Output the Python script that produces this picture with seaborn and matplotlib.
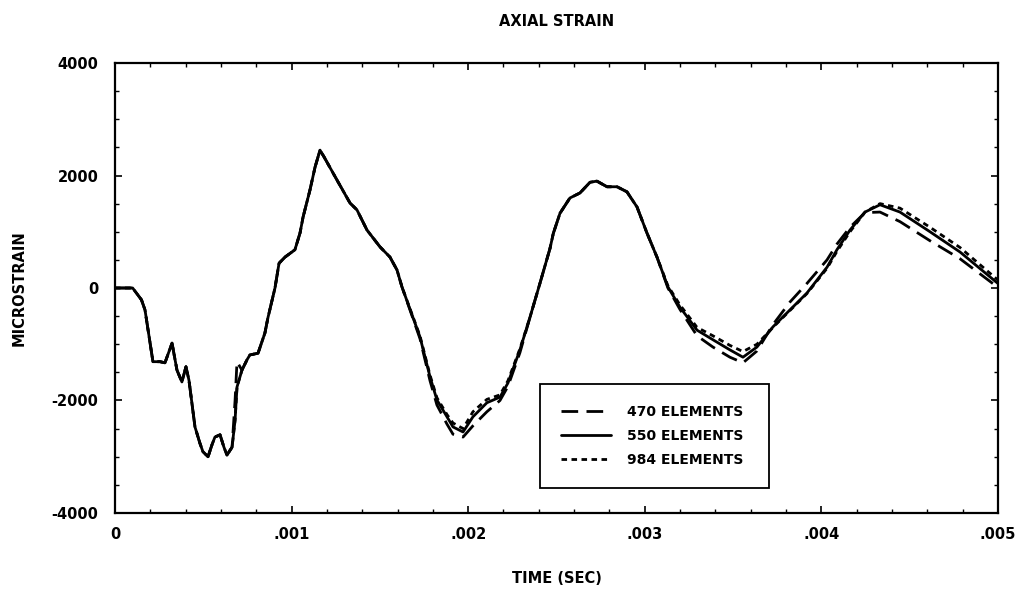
import numpy as np
import pandas as pd
import matplotlib
matplotlib.use("Agg")
import matplotlib.pyplot as plt
import seaborn as sns
from matplotlib.ticker import MultipleLocator, FixedLocator, FixedFormatter

# ---------------- data ----------------
time_ms = [0, 0.10, 0.15, 0.17, 0.215, 0.255, 0.283, 0.323, 0.351, 0.379,
           0.402, 0.419, 0.453, 0.481, 0.498, 0.527, 0.549, 0.566, 0.595, 0.617,
           0.634, 0.663, 0.680, 0.691, 0.719, 0.747, 0.764, 0.810, 0.849, 0.866,
           0.906, 0.929, 0.963, 1.019, 1.048, 1.065, 1.104, 1.133, 1.161, 1.184,
           1.200, 1.257, 1.331, 1.370, 1.427, 1.501, 1.557, 1.597, 1.625, 1.727,
           1.784, 1.823, 1.880, 1.914, 1.971, 2.027, 2.106, 2.180, 2.225, 2.293,
           2.350, 2.407, 2.463, 2.482, 2.520, 2.576, 2.633, 2.690, 2.729, 2.786,
           2.843, 2.899, 2.956, 3.012, 3.069, 3.131, 3.199, 3.296, 3.386, 3.482,
           3.556, 3.635, 3.726, 3.822, 3.918, 4.032, 4.088, 4.162, 4.247, 4.332,
           4.445, 4.615, 4.785, 5.000]

strain_550 = [0, 0, -210, -390, -1310, -1310, -1330, -980, -1460, -1670,
              -1400, -1640, -2470, -2760, -2910, -3000, -2790, -2650, -2610, -2830,
              -2970, -2830, -2350, -1760, -1460, -1280, -1190, -1160, -800, -530,
              0, 440, 550, 680, 980, 1260, 1740, 2150, 2450, 2330,
              2240, 1920, 1510, 1390, 1030, 730, 550, 320, 20, -870,
              -1580, -1990, -2290, -2470, -2560, -2290, -2040, -1940, -1690, -1100,
              -520, 90, 700, 970, 1330, 1600, 1690, 1880, 1900, 1800,
              1800, 1710, 1440, 980, 550, 20, -340, -750, -920, -1100,
              -1230, -1050, -690, -390, -90, 370, 680, 1030, 1350, 1480,
              1350, 1000, 640, 80]

strain_470 = [0, 0, -210, -390, -1310, -1310, -1330, -980, -1460, -1670,
              -1400, -1640, -2470, -2760, -2910, -3000, -2790, -2650, -2610, -2830,
              -2970, -2830, -2000, -1310, -1460, -1280, -1190, -1160, -800, -530,
              0, 440, 550, 680, 980, 1260, 1740, 2150, 2450, 2330,
              2240, 1920, 1510, 1390, 1030, 730, 550, 320, 20, -900,
              -1650, -2080, -2420, -2600, -2650, -2450, -2200, -2000, -1750, -1150,
              -520, 90, 700, 970, 1330, 1600, 1690, 1880, 1900, 1800,
              1800, 1710, 1440, 980, 550, 0, -380, -850, -1050, -1230,
              -1330, -1120, -650, -250, 80, 500, 780, 1080, 1340, 1350,
              1180, 840, 520, 10]

strain_984 = [0, 0, -210, -390, -1310, -1310, -1330, -980, -1460, -1670,
              -1400, -1640, -2470, -2760, -2910, -3000, -2790, -2650, -2610, -2830,
              -2970, -2830, -2350, -1760, -1460, -1280, -1190, -1160, -800, -530,
              0, 440, 550, 680, 980, 1260, 1740, 2150, 2450, 2330,
              2240, 1920, 1510, 1390, 1030, 730, 550, 320, 20, -850,
              -1550, -1950, -2250, -2400, -2500, -2200, -1980, -1900, -1650, -1080,
              -520, 90, 700, 970, 1330, 1600, 1690, 1880, 1900, 1800,
              1800, 1710, 1440, 980, 550, 40, -300, -700, -850, -1020,
              -1130, -1000, -700, -400, -100, 350, 650, 1000, 1350, 1500,
              1420, 1080, 720, 140]

series_names = ["470 ELEMENTS", "550 ELEMENTS", "984 ELEMENTS"]
x_ticks = [0, 0.001, 0.002, 0.003, 0.004, 0.005]
x_tick_labels = ["0", ".001", ".002", ".003", ".004", ".005"]
y_ticks = [-4000, -2000, 0, 2000, 4000]
y_tick_labels = ["-4000", "-2000", "0", "2000", "4000"]

frames = []
for name, vals in zip(series_names, [strain_470, strain_550, strain_984]):
    frames.append(pd.DataFrame({"time": np.array(time_ms) * 1e-3,
                                "strain": vals,
                                "series": name}))
df = pd.concat(frames, ignore_index=True)

# ---------------- style ----------------
sns.set_style("ticks")
plt.rcParams["font.family"] = ["DejaVu Sans"]
plt.rcParams["font.weight"] = "bold"
plt.rcParams["text.color"] = "black"
plt.rcParams["axes.labelcolor"] = "black"
plt.rcParams["xtick.color"] = "black"
plt.rcParams["ytick.color"] = "black"

fig = plt.figure(figsize=(10.22, 5.99), dpi=100)
ax = fig.add_axes([0.1125, 0.1436, 0.864, 0.7512])

sns.lineplot(data=df, x="time", y="strain", hue="series", style="series",
             palette={n: "black" for n in series_names},
             dashes={"470 ELEMENTS": (6, 3), "550 ELEMENTS": "", "984 ELEMENTS": (2, 1.6)},
             linewidth=2.0, estimator=None, sort=False, ax=ax)

ax.set_xlim(0, 0.005)
ax.set_ylim(-4000, 4000)
ax.xaxis.set_major_locator(FixedLocator(x_ticks))
ax.xaxis.set_major_formatter(FixedFormatter(x_tick_labels))
ax.xaxis.set_minor_locator(MultipleLocator(0.0002))
ax.yaxis.set_major_locator(FixedLocator(y_ticks))
ax.yaxis.set_major_formatter(FixedFormatter(y_tick_labels))
ax.yaxis.set_minor_locator(MultipleLocator(500))

ax.tick_params(which="both", direction="in", top=True, right=True,
               colors="black", labelcolor="black")
ax.tick_params(which="major", length=5, width=1.2, labelsize=10.5)
ax.tick_params(axis="x", which="major", pad=10)
ax.tick_params(axis="y", which="major", pad=12)
ax.tick_params(which="minor", length=3, width=1)
for sp in ax.spines.values():
    sp.set_visible(True)
    sp.set_color("black")
    sp.set_linewidth(1.6)

ax.set_title("AXIAL STRAIN", fontsize=10.5, fontweight="bold", pad=27, color="black")
ax.set_xlabel("TIME (SEC)", fontsize=10.5, fontweight="bold", labelpad=21, color="black")
ax.set_ylabel("MICROSTRAIN", fontsize=10.5, fontweight="bold", labelpad=18, color="black")

leg = ax.legend(loc="lower left", bbox_to_anchor=(0.481, 0.056, 0.26, 0.233),
                mode="expand", borderaxespad=0, frameon=True, fancybox=False,
                edgecolor="black", fontsize=10, handlelength=3.6, handletextpad=1.2,
                borderpad=1.5, labelspacing=0.72, title=None)
leg.get_frame().set_linewidth(1.3)
leg.get_frame().set_alpha(1)
for txt in leg.get_texts():
    txt.set_color("black")

fig.savefig("out.png", dpi=100, facecolor="white")
